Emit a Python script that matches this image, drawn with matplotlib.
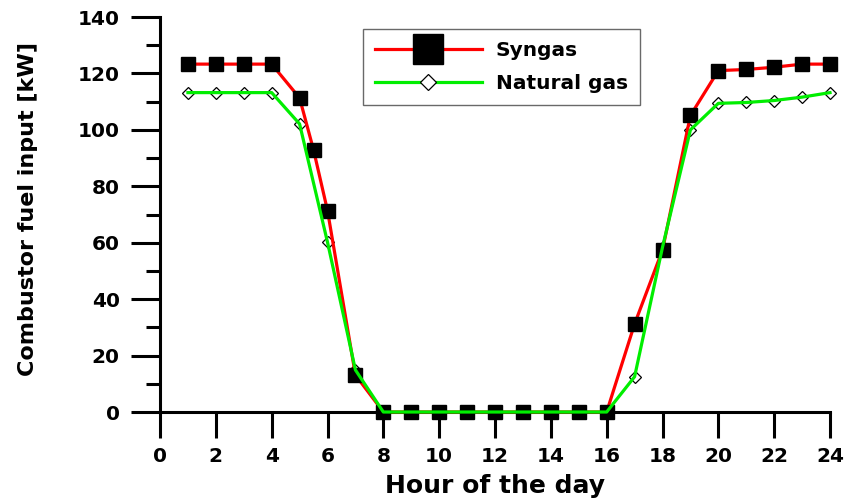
import matplotlib
matplotlib.use("Agg")
import matplotlib.pyplot as plt
import numpy as np

hours_syngas = [1, 2, 3, 4, 5, 5.5, 6, 7, 8, 9, 10, 11, 12, 13, 14, 15, 16, 17, 18, 19, 20, 21, 22, 23, 24]
syngas = [123.3, 123.3, 123.3, 123.3, 111.3, 92.9, 71.4, 13.1, 0, 0, 0, 0, 0, 0, 0, 0, 0, 31.2, 57.4, 105.1, 121.0, 121.4, 122.2, 123.3, 123.3]

hours_ng = [1, 2, 3, 4, 5, 6, 7, 8, 9, 10, 11, 12, 13, 14, 15, 16, 17, 18, 19, 20, 21, 22, 23, 24]
natural_gas = [113.2, 113.2, 113.2, 113.2, 102.1, 60.2, 14.9, 0, 0, 0, 0, 0, 0, 0, 0, 0, 12.5, 58.4, 100.0, 109.4, 109.7, 110.4, 111.6, 113.2]

x_ticks = list(range(0, 25, 2))
y_ticks = list(range(0, 141, 20))

plt.rcParams['font.family'] = ['DejaVu Sans']
plt.rcParams['font.weight'] = 'bold'

fig = plt.figure(figsize=(8.46, 5), dpi=100)
ax = fig.add_axes([160/846, 88/500, 670/846, 395/500])

ax.plot(hours_syngas, syngas, color='#ff0000', lw=2.3, marker='s', ms=9.5,
        mfc='black', mec='black', label='Syngas', clip_on=False, zorder=3)
ax.plot(hours_ng, natural_gas, color='#00ee00', lw=2.3, zorder=4, clip_on=False)
ax.plot(hours_ng, natural_gas, ls='none', marker='D', ms=6, mfc='white', mec='black',
        mew=0.9, clip_on=False, zorder=2)
# legend proxy for natural gas
ng_handle, = ax.plot([], [], color='#00ee00', lw=2.3, marker='D', ms=8, mfc='white',
                     mec='black', mew=0.9, label='Natural gas')

ax.set_xlim(0, 24)
ax.set_ylim(0, 140)
ax.set_xticks(x_ticks)
ax.set_yticks(y_ticks)
ax.set_yticks(range(10, 141, 20), minor=True)

for s in ['top', 'right']:
    ax.spines[s].set_visible(False)
for s in ['left', 'bottom']:
    ax.spines[s].set_linewidth(2.2)

ax.tick_params(axis='x', which='major', direction='out', length=19, width=2.2, labelsize=14.5, pad=6)
ax.tick_params(axis='y', which='major', direction='out', length=21, width=2.2, labelsize=14.5, pad=8)
ax.tick_params(axis='y', which='minor', direction='out', length=10, width=2.2)
for lab in ax.get_xticklabels() + ax.get_yticklabels():
    lab.set_fontweight('bold')

ax.set_xlabel('Hour of the day', fontsize=18, fontweight='bold', labelpad=6)
ax.set_ylabel('Combustor fuel input [kW]', fontsize=16, fontweight='bold')
ax.yaxis.set_label_coords((38-160)/670, (412-209)/395)

leg = ax.legend(loc='upper left', bbox_to_anchor=((363-160)/670, (471-88)/395),
                fontsize=14.5, frameon=True, fancybox=False, edgecolor='#444444',
                handlelength=5.3, borderpad=0.6, labelspacing=0.7, handletextpad=0.7,
                borderaxespad=0)
leg.get_frame().set_linewidth(1.0)
leg.legend_handles[0].set_markersize(22)
for t in leg.get_texts():
    t.set_fontweight('bold')

fig.savefig('out.png', dpi=100)
